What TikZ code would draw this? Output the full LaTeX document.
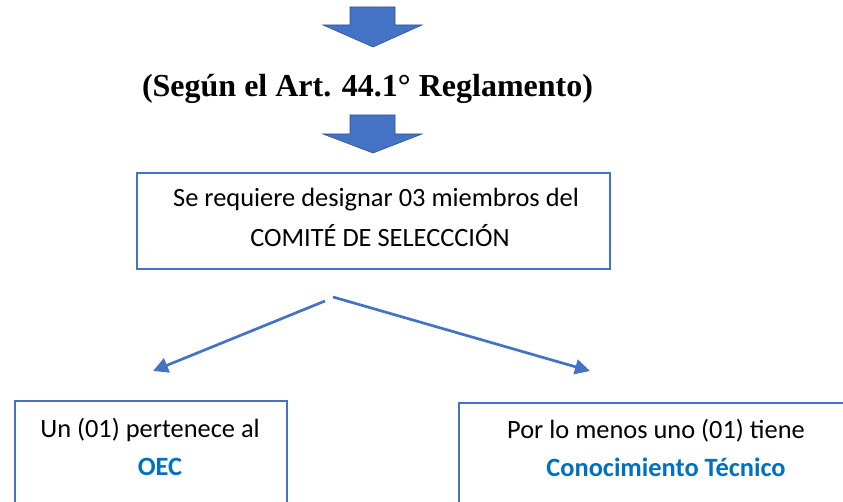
\documentclass[tikz,border=0pt]{standalone}
\usepackage{fontspec}
\setmainfont{Carlito}
\newfontfamily\titlefont{Liberation Serif}
\usetikzlibrary{arrows.meta}
\definecolor{accent}{HTML}{4472C4}
\definecolor{accentdark}{HTML}{2F528F}
\definecolor{textblue}{HTML}{0070C0}
\tikzset{
  blockarrow/.style={fill=accent, draw=accentdark, line width=0.6pt, line join=miter},
  box/.style={draw=accent, line width=2pt, fill=white},
  bodytext/.style={font=\fontsize{26.4}{30}\selectfont, inner sep=0pt, anchor=base},
  bluetext/.style={bodytext, font=\fontsize{26.4}{30}\selectfont\bfseries, text=textblue},
  connector/.style={draw=accent, line width=2.7pt, -{Triangle[length=15pt,width=15pt]}}
}
\begin{document}
\begin{tikzpicture}[x=1pt,y=-1pt]
\useasboundingbox (0,0) rectangle (843,502);
\clip (0,0) rectangle (843,502);
% block arrows
\path[blockarrow] (350,7) -- (395,7) -- (395,25) -- (422,25) -- (373,47) -- (323,25) -- (350,25) -- cycle;
\path[blockarrow] (350,115) -- (395,115) -- (395,134) -- (422,134) -- (373,153) -- (323,134) -- (350,134) -- cycle;
% title
\node[inner sep=0pt, anchor=base, font=\titlefont\bfseries\fontsize{32}{36}\selectfont] (title) at (367.5,97) {(Según el Art. 44.1° Reglamento)};
% top box
\node[box, minimum width=473pt, minimum height=96pt, inner sep=0pt] (top) at (373.5,221) {};
\node[bodytext] (t1) at (376,207) {Se requiere designar 03 miembros del};
\node[bodytext] (t2) at (380,247) {COMITÉ DE SELECCCIÓN};
% bottom boxes
\node[box, minimum width=272pt, minimum height=140pt, inner sep=0pt, anchor=north west] (left) at (14,400) {};
\node[bodytext] (l1) at (150,437) {Un (01) pertenece al};
\node[bluetext] (l2) at (160,475) {OEC};
\node[box, minimum width=420pt, minimum height=140pt, inner sep=0pt, anchor=north west] (right) at (458,402) {};
\node[bodytext] (r1) at (656,438) {Por lo menos uno (01) tiene};
\node[bluetext] (r2) at (666,476) {Conocimiento Técnico};
% connectors
\coordinate (sL) at (325,301);
\coordinate (eL) at (153,371);
\coordinate (sR) at (333,297);
\coordinate (eR) at (590,371);
\draw[connector] (sL) -- (eL);
\draw[connector] (sR) -- (eR);
\end{tikzpicture}
\end{document}
